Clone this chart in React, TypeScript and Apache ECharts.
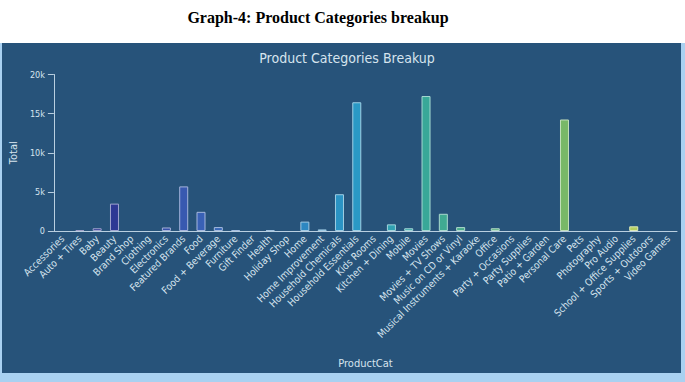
import React, { useEffect, useRef } from "react";
import * as echarts from "echarts";

const categories: string[] = [
  "Accessories", "Auto + Tires", "Baby", "Beauty", "Brand Shop", "Clothing",
  "Electronics", "Featured Brands", "Food", "Food + Beverage", "Furniture", "Gift Finder",
  "Health", "Holiday Shop", "Home", "Home Improvement", "Household Chemicals", "Household Essentials",
  "Kids Rooms", "Kitchen + Dining", "Mobile", "Movies", "Movies + TV Shows", "Music on CD or Vinyl",
  "Musical Instruments + Karaoke", "Office", "Party + Occasions", "Party Supplies", "Patio + Garden", "Personal Care",
  "Pets", "Photography", "Pro Audio", "School + Office Supplies", "Sports + Outdoors", "Video Games",
];

const totals: number[] = [
  0, 120, 350, 3500, 0, 0,
  450, 5700, 2450, 500, 120, 0,
  100, 0, 1200, 200, 4700, 16450,
  0, 850, 350, 17250, 2200, 500,
  0, 350, 0, 0, 0, 14250,
  0, 0, 0, 600, 0, 0,
];

const yTicks: number[] = [0, 5000, 10000, 15000, 20000];

const stops: [number, string][] = [
  [0, "#2a2c86"],
  [0.1, "#2d3a96"],
  [0.22, "#3a5fb5"],
  [0.45, "#2a92c4"],
  [0.5, "#2a9cc6"],
  [0.6, "#38a898"],
  [0.83, "#78b868"],
  [0.95, "#b8d060"],
  [1, "#c8d860"],
];

function hex(c: string): number[] {
  return [1, 3, 5].map((i) => parseInt(c.slice(i, i + 2), 16));
}
function toHex(a: number[]): string {
  return "#" + a.map((v) => Math.round(v).toString(16).padStart(2, "0")).join("");
}
function colorAt(t: number): string {
  for (let i = 1; i < stops.length; i++) {
    if (t <= stops[i][0]) {
      const [t0, c0] = stops[i - 1];
      const [t1, c1] = stops[i];
      const f = (t - t0) / (t1 - t0 || 1);
      const a = hex(c0), b = hex(c1);
      return toHex(a.map((v, k) => v + (b[k] - v) * f));
    }
  }
  return stops[stops.length - 1][1];
}
function lighten(c: string, f: number): string {
  return toHex(hex(c).map((v) => v + (255 - v) * f));
}

const chalk = "#d6e4ee";
const narrow = "'Liberation Sans Narrow', 'DejaVu Sans Condensed', sans-serif";

export default function App() {
  const ref = useRef<HTMLDivElement>(null);
  useEffect(() => {
    if (!ref.current) return;
    const chart = echarts.init(ref.current, undefined, { renderer: "svg" });
    const n = categories.length;
    chart.setOption({
      animation: false,
      backgroundColor: "#ffffff",
      title: [
        {
          text: "Graph-4: Product Categories breakup",
          left: 313,
          textAlign: "center",
          top: 4,
          textStyle: {
            fontFamily: "'Liberation Serif', 'Times New Roman', serif",
            fontWeight: "bold",
            fontSize: 16,
            color: "#000000",
          },
        },
        {
          text: "Product Categories Breakup",
          left: 342,
          textAlign: "center",
          top: 46,
          textStyle: {
            fontFamily: narrow,
            fontWeight: "normal",
            fontSize: 14,
            color: chalk,
          },
        },
      ],
      graphic: [
        {
          type: "rect",
          z: -10,
          silent: true,
          shape: { x: 0, y: 43, width: 685, height: 339 },
          style: { fill: "#a9d1f1" },
        },
        {
          type: "rect",
          z: -9,
          silent: true,
          shape: { x: 2, y: 43, width: 679, height: 330 },
          style: { fill: "#27537a" },
        },
      ],
      grid: { left: 49, right: 8, top: 74.5, bottom: 151, containLabel: false },
      xAxis: {
        type: "category",
        data: categories,
        name: "ProductCat",
        nameLocation: "middle",
        nameGap: 127,
        nameTextStyle: { color: chalk, fontFamily: narrow, fontSize: 11 },
        axisLine: { lineStyle: { color: "#b9cfe0", width: 1 } },
        axisTick: { length: 4, lineStyle: { color: "#b9cfe0" } },
        axisLabel: {
          interval: 0,
          rotate: 45,
          margin: 6,
          color: chalk,
          fontFamily: narrow,
          fontSize: 10,
        },
        splitLine: { show: false },
      },
      yAxis: {
        type: "value",
        min: 0,
        max: yTicks[yTicks.length - 1],
        interval: yTicks[1] - yTicks[0],
        name: "Total",
        nameLocation: "middle",
        nameGap: 32,
        nameRotate: 90,
        nameTextStyle: { color: chalk, fontFamily: narrow, fontSize: 11 },
        axisLine: { show: true, lineStyle: { color: "#b9cfe0", width: 1 } },
        axisTick: { show: true, length: 6, lineStyle: { color: "#b9cfe0" } },
        axisLabel: {
          color: chalk,
          fontFamily: narrow,
          fontSize: 9,
          margin: 9,
          formatter: (v: number) => (v === 0 ? "0" : v / 1000 + "k"),
        },
        splitLine: { show: false },
      },
      series: [
        {
          type: "bar",
          data: totals.map((v, i) => {
            const c = colorAt(i / (n - 1));
            return {
              value: v,
              itemStyle: {
                color: c,
                borderColor: lighten(c, 0.55),
                borderWidth: v > 0 ? 1 : 0,
              },
            };
          }),
          barWidth: "52%",
        },
      ],
    });
    return () => chart.dispose();
  }, []);
  return (
    <div
      ref={ref}
      style={{ position: "fixed", left: 0, top: 0, width: 685, height: 382 }}
    />
  );
}
